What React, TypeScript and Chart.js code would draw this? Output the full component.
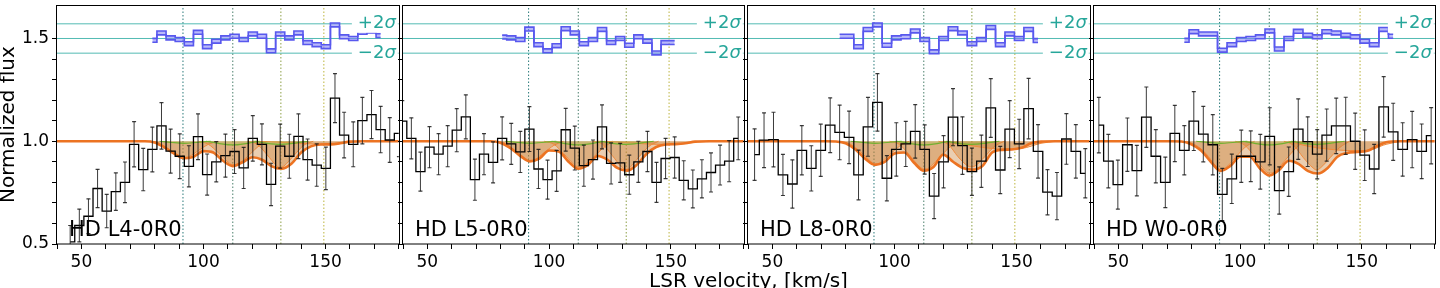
import React, { useEffect, useRef } from 'react';
import { Chart, registerables } from 'chart.js';

Chart.register(...registerables);

// ---------------- data ----------------
const PANEL_NAMES = ['HD L4-0R0', 'HD L5-0R0', 'HD L8-0R0', 'HD W0-0R0'];

// velocity of first bin centre and channel width (km/s) for each panel
const BIN_START = [45.4, 39.7, 42.7, 42.0];
const BIN_WIDTH = [3.74, 3.73, 3.87, 3.9];

const FLUX_L4 = [0.51, 0.59, 0.635, 0.77, 0.66, 0.755, 0.8, 0.985, 0.862, 0.96, 1.075, 0.952, 0.927, 0.878, 1.022, 0.838, 0.9, 0.93, 0.95, 0.87, 1.014, 0.985, 0.79, 0.976, 0.927, 1.024, 0.911, 0.884, 0.868, 1.21, 1.03, 0.985, 1.1, 1.13, 1.057, 1.006, 1.038];
const ERR_L4 = [0.08, 0.08, 0.085, 0.093, 0.081, 0.091, 0.099, 0.11, 0.103, 0.109, 0.113, 0.107, 0.109, 0.1, 0.111, 0.1, 0.098, 0.105, 0.107, 0.1, 0.111, 0.1, 0.103, 0.107, 0.107, 0.109, 0.1, 0.103, 0.103, 0.119, 0.111, 0.109, 0.113, 0.117, 0.113, 0.109, 0.113];

const FLUX_L5 = [1.098, 1.014, 0.852, 0.971, 0.937, 0.976, 1.054, 1.119, 0.813, 0.937, 0.897, 1.014, 0.987, 0.948, 1.059, 0.865, 0.813, 0.856, 1.056, 0.967, 0.881, 0.911, 1.07, 0.892, 0.895, 0.837, 0.9, 0.95, 0.8, 0.916, 0.921, 0.81, 0.768, 0.817, 0.848, 0.884, 0.903, 1.014];
const ERR_L5 = [0.1, 0.1, 0.095, 0.1, 0.1, 0.1, 0.105, 0.107, 0.1, 0.1, 0.1, 0.105, 0.1, 0.1, 0.109, 0.095, 0.095, 0.1, 0.104, 0.107, 0.1, 0.095, 0.107, 0.1, 0.095, 0.095, 0.1, 0.098, 0.097, 0.098, 0.1, 0.095, 0.092, 0.093, 0.095, 0.097, 0.1, 0.104];

const FLUX_L8 = [0.935, 1.005, 1.008, 0.836, 0.792, 0.956, 0.868, 0.956, 1.078, 1.043, 1.019, 0.836, 1.07, 1.189, 0.82, 0.96, 0.987, 1.048, 0.96, 0.733, 0.9, 1.117, 0.979, 0.852, 0.903, 1.162, 0.86, 1.059, 0.987, 1.159, 0.951, 0.752, 0.733, 1.011, 0.951, 0.844];
const ERR_L8 = [0.125, 0.133, 0.133, 0.1, 0.117, 0.12, 0.11, 0.127, 0.133, 0.133, 0.128, 0.121, 0.143, 0.14, 0.11, 0.13, 0.11, 0.13, 0.12, 0.11, 0.127, 0.139, 0.14, 0.115, 0.127, 0.143, 0.115, 0.139, 0.12, 0.147, 0.13, 0.11, 0.115, 0.123, 0.13, 0.12];

const FLUX_W0 = [1.078, 0.903, 0.789, 0.983, 0.857, 1.117, 0.927, 0.8, 1.038, 0.956, 1.098, 1.035, 0.983, 0.741, 0.817, 0.927, 0.927, 0.9, 1.024, 0.76, 0.852, 1.059, 0.998, 0.937, 1.03, 1.075, 1.075, 1.0, 0.932, 0.865, 1.167, 1.046, 0.96, 1.008, 0.951, 1.027];
const ERR_W0 = [0.135, 0.13, 0.119, 0.13, 0.123, 0.147, 0.13, 0.123, 0.137, 0.12, 0.143, 0.135, 0.147, 0.127, 0.12, 0.127, 0.123, 0.133, 0.139, 0.115, 0.12, 0.147, 0.121, 0.12, 0.127, 0.135, 0.139, 0.137, 0.123, 0.12, 0.147, 0.139, 0.13, 0.137, 0.133, 0.137];

// residuals (offset to 1.5), first residual bin index into the flux grid
const RES_START = [9, 11, 9, 9];
const RES_L4 = [1.491, 1.527, 1.503, 1.495, 1.475, 1.53, 1.46, 1.487, 1.503, 1.511, 1.495, 1.522, 1.511, 1.44, 1.522, 1.503, 1.527, 1.48, 1.47, 1.46, 1.566, 1.508, 1.5, 1.53, 1.537, 1.514];
const RES_L5 = [1.507, 1.503, 1.495, 1.546, 1.47, 1.44, 1.465, 1.548, 1.527, 1.475, 1.495, 1.544, 1.48, 1.5, 1.467, 1.508, 1.487, 1.43, 1.48, 1.48];
const RES_L8 = [1.511, 1.511, 1.46, 1.544, 1.566, 1.467, 1.503, 1.508, 1.537, 1.495, 1.435, 1.5, 1.548, 1.527, 1.475, 1.495, 1.554, 1.47, 1.522, 1.5, 1.544, 1.49];
const RES_W0 = [1.491, 1.533, 1.522, 1.522, 1.443, 1.47, 1.495, 1.5, 1.508, 1.537, 1.449, 1.5, 1.535, 1.516, 1.508, 1.533, 1.527, 1.516, 1.508, 1.487, 1.47, 1.544, 1.511];

// total model
const MODEL_V = [40, 72, 76, 80, 84, 88, 92, 96, 100, 104, 108, 112, 116, 120, 124, 128, 132, 136, 140, 144, 148, 152, 156, 160, 166, 180];
const MODEL_L4 = [1, 1, 1, 0.994, 0.97, 0.94, 0.917, 0.925, 0.952, 0.945, 0.905, 0.879, 0.898, 0.922, 0.91, 0.878, 0.866, 0.89, 0.945, 0.975, 0.984, 0.985, 0.99, 0.998, 1, 1];
const MODEL_L5 = [1, 1, 1, 0.993, 0.968, 0.93, 0.902, 0.915, 0.955, 0.95, 0.9, 0.866, 0.885, 0.928, 0.91, 0.87, 0.857, 0.885, 0.938, 0.972, 0.984, 0.986, 0.99, 0.998, 1, 1];
const MODEL_L8 = [1, 1, 0.999, 0.99, 0.96, 0.915, 0.885, 0.9, 0.94, 0.945, 0.895, 0.857, 0.875, 0.935, 0.9, 0.87, 0.862, 0.88, 0.945, 0.958, 0.96, 0.968, 0.99, 0.998, 1, 1];
const MODEL_W0 = [1, 1, 0.999, 0.985, 0.955, 0.9, 0.856, 0.88, 0.925, 0.925, 0.87, 0.833, 0.86, 0.905, 0.89, 0.855, 0.843, 0.87, 0.925, 0.943, 0.948, 0.952, 0.975, 0.995, 1, 1];

// individual absorption components
const COMP1_V = [78, 82, 86, 90, 92, 94, 98, 102, 106];
const COMP2_V = [98, 102, 106, 110, 112, 114, 118, 122, 126];
const COMP3_V = [118, 122, 126, 130, 131.5, 133, 137, 141, 145];
const COMP4_V = [120, 128, 136, 144, 152, 160, 166];

const COMP_L4 = [
  [1, 0.99, 0.96, 0.93, 0.92, 0.925, 0.955, 0.985, 1],
  [1, 0.985, 0.945, 0.9, 0.885, 0.89, 0.925, 0.97, 1],
  [1, 0.985, 0.935, 0.88, 0.872, 0.88, 0.93, 0.98, 1],
  [1, 0.997, 0.992, 0.987, 0.986, 0.995, 1],
];
const COMP_L5 = [
  [1, 0.99, 0.955, 0.92, 0.905, 0.91, 0.945, 0.98, 1],
  [1, 0.985, 0.94, 0.89, 0.875, 0.88, 0.92, 0.965, 1],
  [1, 0.985, 0.93, 0.872, 0.862, 0.87, 0.925, 0.975, 1],
  [1, 0.996, 0.99, 0.985, 0.985, 0.995, 1],
];
const COMP_L8 = [
  [1, 0.985, 0.95, 0.905, 0.888, 0.895, 0.935, 0.975, 1],
  [1, 0.985, 0.935, 0.88, 0.865, 0.87, 0.915, 0.965, 1],
  [1, 0.985, 0.925, 0.88, 0.875, 0.88, 0.925, 0.975, 1],
  [1, 0.985, 0.97, 0.962, 0.965, 0.99, 1],
];
const COMP_W0 = [
  [1, 0.98, 0.94, 0.88, 0.86, 0.87, 0.92, 0.97, 1],
  [1, 0.98, 0.925, 0.86, 0.845, 0.85, 0.9, 0.955, 1],
  [1, 0.98, 0.92, 0.87, 0.86, 0.87, 0.92, 0.97, 1],
  [1, 0.975, 0.962, 0.955, 0.955, 0.985, 1],
];

// weak (green) components
const GREEN1_V = [82, 87, 92, 97, 103];
const GREEN1 = [1, 0.994, 0.99, 0.994, 1];
const GREEN2_V = [101, 106, 112, 118, 123];
const GREEN2 = [1, 0.99, 0.982, 0.99, 1];
const GREEN3_V = [121, 126, 131.5, 137, 143];
const GREEN3 = [1, 0.99, 0.985, 0.99, 1];

const LINE_CENTERS = [91.6, 112, 131.7, 149.3];
const SIGMA_LEVELS = [1.4286, 1.5, 1.5714];
const RES_HALF = 0.0095;

const X_MIN = 40;
const X_MAX = 180;
const Y_MIN = 0.5;
const Y_MAX = 1.662;
const X_TICK_LABELS = [50, 100, 150];
const Y_TICK_LABELS = [0.5, 1.0, 1.5];

const FLUX = [FLUX_L4, FLUX_L5, FLUX_L8, FLUX_W0];
const ERR = [ERR_L4, ERR_L5, ERR_L8, ERR_W0];
const RES = [RES_L4, RES_L5, RES_L8, RES_W0];
const MODEL = [MODEL_L4, MODEL_L5, MODEL_L8, MODEL_W0];
const COMPS = [COMP_L4, COMP_L5, COMP_L8, COMP_W0];
const COMP_V = [COMP1_V, COMP2_V, COMP3_V, COMP4_V];
const GREEN_V = [GREEN1_V, GREEN2_V, GREEN3_V];
const GREEN = [GREEN1, GREEN2, GREEN3];

// ---------------- layout / style ----------------
const PANEL_LEFT = [57, 403, 748, 1094];
const PANEL_RIGHT = [403, 748, 1094, 1439];
const TICK_ROOM = 6;
const FONT = '"DejaVu Sans", "Liberation Sans", sans-serif';

const LINE_COLORS = ['#2b7a7a', '#4a7f6c', '#8c9f45', '#bcb43c'];
const SIGMA_COLOR = 'rgba(40,170,160,0.8)';
const SIGMA_TEXT = '#26a69a';
const ORANGE = '#ec7322';
const COMP_ORANGE = '#f08a3c';
const TAN = 'rgba(200,125,50,0.38)';
const GREEN_LINE = '#72b030';
const GREEN_FILL = 'rgba(130,205,70,0.22)';
const BLUE = 'rgb(88,88,238)';
const BLUE_FILL = 'rgba(125,125,246,0.55)';
const ERR_COLOR = 'rgba(25,25,25,0.85)';

function centers(idx: number): number[] {
  const n = FLUX[idx].length;
  const out: number[] = [];
  for (let k = 0; k < n; k++) out.push(BIN_START[idx] + k * BIN_WIDTH[idx]);
  return out;
}

function buildDatasets(idx: number) {
  const flux = FLUX[idx];
  const err = ERR[idx];
  const v = centers(idx);
  const ds: any[] = [];

  LINE_CENTERS.forEach((c, i) =>
    ds.push({
      data: [{ x: c, y: Y_MIN }, { x: c, y: Y_MAX }],
      borderColor: LINE_COLORS[i],
      borderWidth: 1,
      borderDash: [1.5, 2],
      pointRadius: 0,
      fill: false,
    })
  );
  SIGMA_LEVELS.forEach((l) =>
    ds.push({
      data: [{ x: X_MIN, y: l }, { x: X_MAX, y: l }],
      borderColor: SIGMA_COLOR,
      borderWidth: 1,
      pointRadius: 0,
      fill: false,
    })
  );
  // total model fill
  ds.push({
    data: MODEL_V.map((x, i) => ({ x, y: MODEL[idx][i] })),
    borderWidth: 0,
    borderColor: 'rgba(0,0,0,0)',
    pointRadius: 0,
    fill: { value: 1 },
    backgroundColor: TAN,
    cubicInterpolationMode: 'monotone',
  });
  // components
  COMP_V.forEach((cv, ci) =>
    ds.push({
      data: cv.map((x, i) => ({ x, y: COMPS[idx][ci][i] })),
      borderColor: COMP_ORANGE,
      borderWidth: 1,
      pointRadius: 0,
      fill: { value: 1 },
      backgroundColor: TAN,
      cubicInterpolationMode: 'monotone',
    })
  );
  GREEN_V.forEach((gv, gi) =>
    ds.push({
      data: gv.map((x, i) => ({ x, y: GREEN[gi][i] })),
      borderColor: GREEN_LINE,
      borderWidth: 1.2,
      pointRadius: 0,
      fill: { value: 1 },
      backgroundColor: GREEN_FILL,
      cubicInterpolationMode: 'monotone',
    })
  );
  // total model line
  ds.push({
    data: MODEL_V.map((x, i) => ({ x, y: MODEL[idx][i] })),
    borderColor: ORANGE,
    borderWidth: 2.6,
    pointRadius: 0,
    fill: false,
    cubicInterpolationMode: 'monotone',
  });
  // data histogram
  ds.push({
    data: v.map((x, i) => ({ x, y: flux[i] })),
    stepped: 'middle',
    borderColor: '#000',
    borderWidth: 1.3,
    pointRadius: 0,
    fill: false,
  });
  // error bars
  const eb: any[] = [];
  v.forEach((x, i) => {
    eb.push({ x, y: flux[i] - err[i] }, { x, y: flux[i] + err[i] }, { x, y: null });
  });
  ds.push({ data: eb, borderColor: ERR_COLOR, borderWidth: 1, pointRadius: 0, spanGaps: false, fill: false });
  const caps: any[] = [];
  v.forEach((x, i) => {
    caps.push({ x, y: flux[i] - err[i] }, { x, y: flux[i] + err[i] });
  });
  ds.push({
    data: caps,
    showLine: false,
    pointStyle: 'line',
    pointRadius: 2,
    pointBorderWidth: 1.2,
    pointBorderColor: ERR_COLOR,
    pointBackgroundColor: ERR_COLOR,
    fill: false,
  });
  // residual band
  const rs = RES_START[idx];
  const res = RES[idx];
  ds.push({
    data: res.map((r, i) => ({ x: v[rs + i], y: r + RES_HALF })),
    stepped: 'middle',
    borderColor: BLUE,
    borderWidth: 1.6,
    pointRadius: 0,
    fill: '+1',
    backgroundColor: BLUE_FILL,
  });
  ds.push({
    data: res.map((r, i) => ({ x: v[rs + i], y: r - RES_HALF })),
    stepped: 'middle',
    borderColor: BLUE,
    borderWidth: 1.6,
    pointRadius: 0,
    fill: false,
  });

  const n = ds.length;
  ds.forEach((d, i) => {
    d.type = 'line';
    d.order = n - i;
  });
  return ds;
}

function makeLabelsPlugin(idx: number) {
  return {
    id: 'panelDecor' + idx,
    afterDatasetsDraw(chart: any) {
      const { ctx, chartArea: a } = chart;
      const ys = chart.scales.y;
      ctx.save();
      // sigma labels
      const normal = `18px ${FONT}`;
      const italic = `italic 18px ${FONT}`;
      const items: [number, string][] = [
        [SIGMA_LEVELS[2], '+2'],
        [SIGMA_LEVELS[0], '\u22122'],
      ];
      items.forEach(([lvl, pre]) => {
        const y = ys.getPixelForValue(lvl);
        ctx.font = normal;
        const w1 = ctx.measureText(pre).width;
        ctx.font = italic;
        const w2 = ctx.measureText('\u03c3').width;
        const xr = a.right - 3;
        const x0 = xr - w1 - w2;
        ctx.fillStyle = '#fff';
        ctx.fillRect(x0 - 6, y - 9, w1 + w2 + 8, 18);
        ctx.fillStyle = SIGMA_TEXT;
        ctx.textAlign = 'left';
        ctx.textBaseline = 'middle';
        ctx.font = normal;
        ctx.fillText(pre, x0, y);
        ctx.font = italic;
        ctx.fillText('\u03c3', x0 + w1, y);
      });
      // panel name
      ctx.fillStyle = '#000';
      ctx.font = `21px ${FONT}`;
      ctx.textAlign = 'left';
      ctx.textBaseline = 'alphabetic';
      ctx.fillText(PANEL_NAMES[idx], a.left + 12, a.bottom - 8);
      // frame
      ctx.strokeStyle = '#000';
      ctx.lineWidth = 1;
      ctx.strokeRect(Math.round(a.left) - 0.5, Math.round(a.top) + 0.5, Math.round(a.right - a.left) + 1, Math.round(a.bottom - a.top) - 0.5);
      ctx.restore();
    },
  };
}

function buildConfig(idx: number): any {
  const first = idx === 0;
  return {
    type: 'line',
    data: { datasets: buildDatasets(idx) },
    options: {
      animation: false,
      responsive: false,
      devicePixelRatio: 1,
      events: [],
      layout: { padding: { left: 0, right: 1, top: 0, bottom: 0 } },
      plugins: {
        legend: { display: false },
        tooltip: { enabled: false },
        title: { display: false },
      },
      scales: {
        x: {
          type: 'linear',
          position: 'bottom',
          min: X_MIN,
          max: X_MAX,
          ticks: {
            stepSize: 10,
            autoSkip: false,
            maxRotation: 0,
            color: '#000',
            padding: 3,
            font: { family: FONT, size: 17 },
            callback: (val: number) => (X_TICK_LABELS.some((t) => Math.abs(t - val) < 1e-6) ? String(Math.round(val)) : ''),
          },
          grid: { display: true, drawOnChartArea: false, drawTicks: true, tickLength: 5, tickColor: '#000', tickWidth: 1 },
          border: { display: false },
          afterFit: (s: any) => {
            s.height = 44;
            s.paddingLeft = 0;
            s.paddingRight = 0;
          },
        },
        y: {
          type: 'linear',
          position: 'left',
          min: Y_MIN,
          max: Y_MAX,
          afterBuildTicks: (s: any) => {
            s.ticks = s.ticks.filter((t: any) => Math.abs(t.value * 10 - Math.round(t.value * 10)) < 1e-6);
          },
          ticks: {
            display: first,
            stepSize: 0.1,
            autoSkip: false,
            color: '#000',
            padding: 3,
            font: { family: FONT, size: 17 },
            callback: (val: number) => (Y_TICK_LABELS.some((t) => Math.abs(t - val) < 1e-6) ? val.toFixed(1) : ''),
          },
          title: {
            display: first,
            text: 'Normalized flux',
            color: '#000',
            font: { family: FONT, size: 20, lineHeight: 1 },
            padding: { top: -1.5, bottom: 0 },
          },
          grid: { display: true, drawOnChartArea: false, drawTicks: true, tickLength: 5, tickColor: '#000', tickWidth: 1 },
          border: { display: false },
          afterFit: (s: any) => {
            s.width = first ? PANEL_LEFT[0] : TICK_ROOM;
            s.paddingTop = 0;
            s.paddingBottom = 0;
          },
        },
      },
    },
    plugins: [makeLabelsPlugin(idx)],
  };
}

function Panel({ idx }: { idx: number }) {
  const ref = useRef<HTMLCanvasElement>(null);
  const left = idx === 0 ? 0 : PANEL_LEFT[idx] - TICK_ROOM;
  const width = PANEL_RIGHT[idx] + 1 - left;
  useEffect(() => {
    if (!ref.current) return;
    const chart = new Chart(ref.current, buildConfig(idx));
    return () => chart.destroy();
  }, [idx]);
  return (
    <canvas
      ref={ref}
      width={width}
      height={288}
      style={{ position: 'absolute', left, top: 0, width, height: 288, display: 'block' }}
    />
  );
}

export default function App() {
  return (
    <div
      style={{
        position: 'fixed',
        left: 0,
        top: 0,
        width: 1440,
        height: 288,
        overflow: 'hidden',
        background: '#fff',
      }}
    >
      {[0, 1, 2, 3].map((i) => (
        <Panel key={i} idx={i} />
      ))}
      <div
        style={{
          position: 'absolute',
          left: 748.5 - 300,
          width: 600,
          top: 270,
          textAlign: 'center',
          fontFamily: FONT,
          fontSize: 20,
          lineHeight: '20px',
          color: '#000',
          whiteSpace: 'nowrap',
        }}
      >
        LSR velocity, [km/s]
      </div>
    </div>
  );
}
